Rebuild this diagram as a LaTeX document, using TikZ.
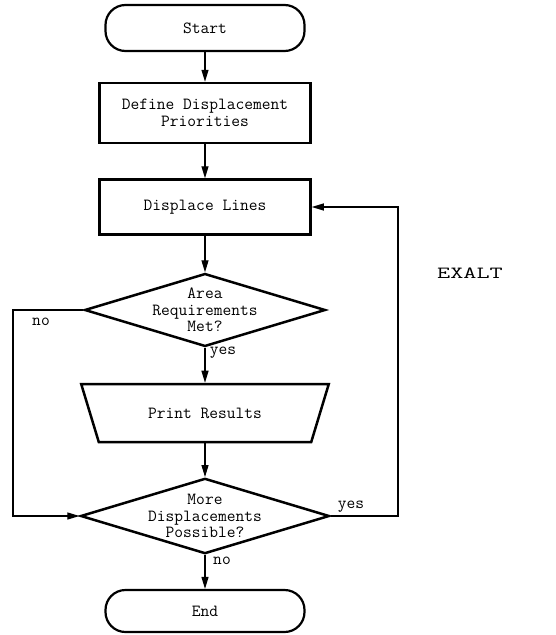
\documentclass[tikz,border=0pt]{standalone}
\usetikzlibrary{arrows.meta,shapes,positioning}
\begin{document}
\begin{tikzpicture}[x=1pt,y=-1pt,
  font=\ttfamily\fontsize{17}{16.5}\selectfont,
  term/.style={draw,line width=2.2pt,rounded corners=20pt,minimum width=199pt,minimum height=46pt},
  proc/.style={draw,line width=2.5pt,minimum width=211pt,align=center},
  test/.style={draw,line width=2.5pt,diamond,aspect=3.3,inner sep=-1pt,align=center},
  flow/.style={-{Triangle[length=12pt,width=7pt]},line width=1.2pt}]
\useasboundingbox (0,0) rectangle (556,635);
% boxes
\node[term] (start) at (205,28) {Start};
\node[proc,minimum height=60pt] (prio) at (205,113) {Define Displacement\\Priorities};
\node[proc,minimum height=55pt] (disp) at (205,207) {Displace Lines};
\node[test] (area) at (205,310) {Area\\Requirements\\Met?};
\node[draw,line width=2.5pt,trapezium,shape border rotate=180,trapezium angle=60,
      trapezium stretches=true,minimum width=248pt,minimum height=58pt] (print) at (205,413) {Print Results};
\node[test] (more) at (205,516) {More\\Displacements\\Possible?};
\node[term,minimum height=42pt] (end) at (205,611) {End};
\coordinate (lft) at (13,0);
\coordinate (rgt) at (398,0);
% connectors
\draw[flow] (start) -- (prio);
\draw[flow] (prio) -- (disp);
\draw[flow] (disp) -- (area);
\draw[flow] (area) -- (print);
\draw[flow] (print.top side) -- (more.north);
\draw[flow] (more) -- (end);
\draw[flow] (area.west) -- (area.west -| lft) |- (more.west);
\draw[flow] (more.east) -- (more.east -| rgt) |- (disp.east);
% labels
\node (no1) at (41,322) {no};
\node (yes1) at (223,353) {yes};
\node (yes2) at (351,507) {yes};
\node (no2) at (222,561) {no};
\node (exalt) at (470,273) {\scalebox{1.5}[1]{EXALT}};
\end{tikzpicture}
\end{document}
